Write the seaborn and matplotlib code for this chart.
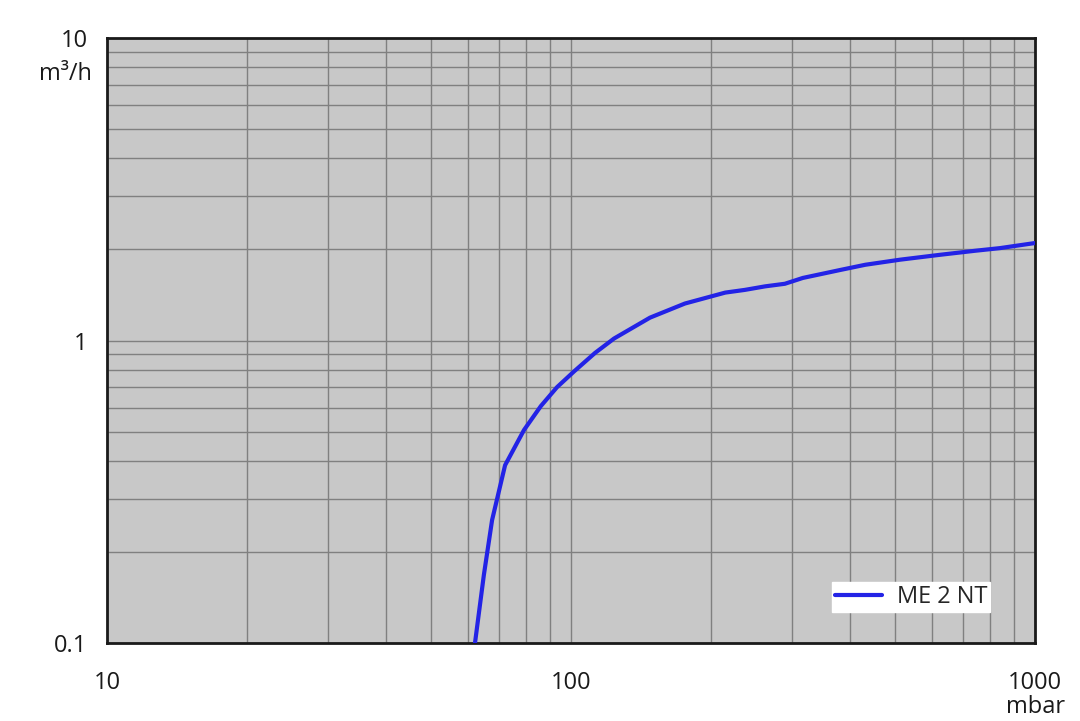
import pandas as pd
import matplotlib
matplotlib.use("Agg")
import matplotlib.pyplot as plt
import seaborn as sns
from matplotlib.ticker import LogLocator, FixedLocator, NullFormatter

sns.set_style("white")
plt.rcParams['font.family'] = ['Open Sans', 'DejaVu Sans']

# pump curve
pressure_mbar = [62.1, 64.9, 67.6, 72.1, 79.2, 86.1, 93.3, 101.5, 112.7, 123.8,
                 148, 176, 215, 237, 262, 289, 316, 380, 431, 512, 624, 743, 840, 1000]
flow_m3h = [0.1, 0.168, 0.255, 0.387, 0.506, 0.607, 0.701, 0.79, 0.91, 1.015,
            1.19, 1.325, 1.44, 1.47, 1.51, 1.54, 1.61, 1.71, 1.78, 1.85, 1.92, 1.98, 2.02, 2.10]
series_name = "ME 2 NT"

x_ticks = [10, 100, 1000]
x_labels = ["10", "100", "1000"]
y_ticks = [0.1, 1, 10]
y_labels = ["0.1", "1", "10"]

df = pd.DataFrame({"p": pressure_mbar, "q": flow_m3h, "name": series_name})

fig = plt.figure(figsize=(10.8, 7.21), dpi=100)
ax = fig.add_axes([107/1080, 1-643/721, (1035-107)/1080, (643-38)/721])
ax.set_facecolor("#c8c8c8")

sns.lineplot(data=df, x="p", y="q", hue="name", palette=["#2323e6"],
             sort=False, estimator=None, lw=3, ax=ax, zorder=3)

ax.set_xscale("log")
ax.set_yscale("log")
ax.set_xlim(10, 1000)
ax.set_ylim(0.1, 10)

ax.xaxis.set_major_locator(FixedLocator(x_ticks))
ax.yaxis.set_major_locator(FixedLocator(y_ticks))
ax.set_xticklabels(x_labels)
ax.set_yticklabels(y_labels)
ax.xaxis.set_minor_locator(LogLocator(base=10, subs=range(2, 10), numticks=20))
ax.yaxis.set_minor_locator(LogLocator(base=10, subs=range(2, 10), numticks=20))
ax.xaxis.set_minor_formatter(NullFormatter())
ax.yaxis.set_minor_formatter(NullFormatter())

ax.grid(True, which="both", color="#808080", lw=1)
ax.set_axisbelow(True)
ax.tick_params(which="both", length=0, labelsize=17, colors="#1a1a1a")
ax.tick_params(axis="x", pad=20)
ax.tick_params(axis="y", pad=14)

for s in ax.spines.values():
    s.set_color("#1a1a1a")
    s.set_linewidth(2)

ax.set_xlabel("")
ax.set_ylabel("")
fig.text(92/1080, 1-74/721, "m³/h", ha="right", va="center", fontsize=17, color="#1a1a1a")
fig.text(1036/1080, 1-707/721, "mbar", ha="center", va="center", fontsize=17, color="#1a1a1a")

leg = ax.legend(loc="lower right", bbox_to_anchor=(0.9515, 0.051), borderaxespad=0,
                frameon=True, fancybox=False, fontsize=17, handlelength=2.0,
                borderpad=0.12, handletextpad=0.6, framealpha=1)
leg.get_frame().set_edgecolor("white")
leg.get_frame().set_facecolor("white")
for line in leg.get_lines():
    line.set_linewidth(3)

fig.savefig("out.png", dpi=100)
